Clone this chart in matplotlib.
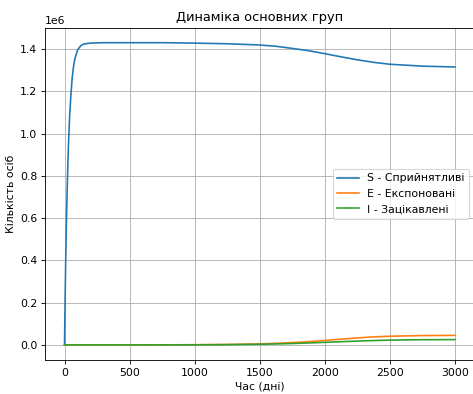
import matplotlib
matplotlib.use("Agg")
import matplotlib.pyplot as plt

# time points (days)
t = [0, 5, 10, 15, 20, 25, 30, 40, 50, 60, 70, 80, 100, 125, 150, 200, 300, 500,
     750, 1000, 1250, 1500, 1625, 1750, 1875, 2000, 2125, 2250, 2375, 2500,
     2750, 3000]

S = [0, 0.23e6, 0.43e6, 0.59e6, 0.72e6, 0.84e6, 0.94e6, 1.09e6, 1.19e6, 1.27e6,
     1.32e6, 1.355e6, 1.395e6, 1.416e6, 1.424e6, 1.428e6, 1.43e6, 1.43e6,
     1.43e6, 1.428e6, 1.425e6, 1.419e6, 1.413e6, 1.403e6, 1.392e6, 1.378e6,
     1.363e6, 1.349e6, 1.337e6, 1.328e6, 1.319e6, 1.315e6]

E = [0, 0, 0, 0, 0, 0, 0, 0, 0, 0, 0, 0, 0, 0, 0, 0, 0, 0,
     200, 800, 2000, 5000, 7500, 11000, 15500, 21000, 27000, 33000, 38000,
     41000, 44000, 45000]

I = [0, 0, 0, 0, 0, 0, 0, 0, 0, 0, 0, 0, 0, 0, 0, 0, 0, 0,
     100, 400, 1200, 3000, 4500, 6500, 9000, 12000, 15000, 18000, 20500,
     22500, 24500, 25000]

labels = ["S - Сприйнятливі", "E - Експоновані", "I - Зацікавлені"]

# reference looks like a downscaled figure, so draw at a lower dpi
dpi = 78
fig = plt.figure(figsize=(473 / dpi, 394 / dpi), dpi=dpi)
ax = fig.add_axes([0.0951, 0.0863, 0.9080, 0.8437])

ax.plot(t, S, label=labels[0])
ax.plot(t, E, label=labels[1])
ax.plot(t, I, label=labels[2])

ax.set_title("Динаміка основних груп")
ax.set_xlabel("Час (дні)")
ax.set_ylabel("Кількість осіб")
ax.legend(loc="center right")
ax.grid(True)

fig.savefig("out.png", dpi=dpi)
